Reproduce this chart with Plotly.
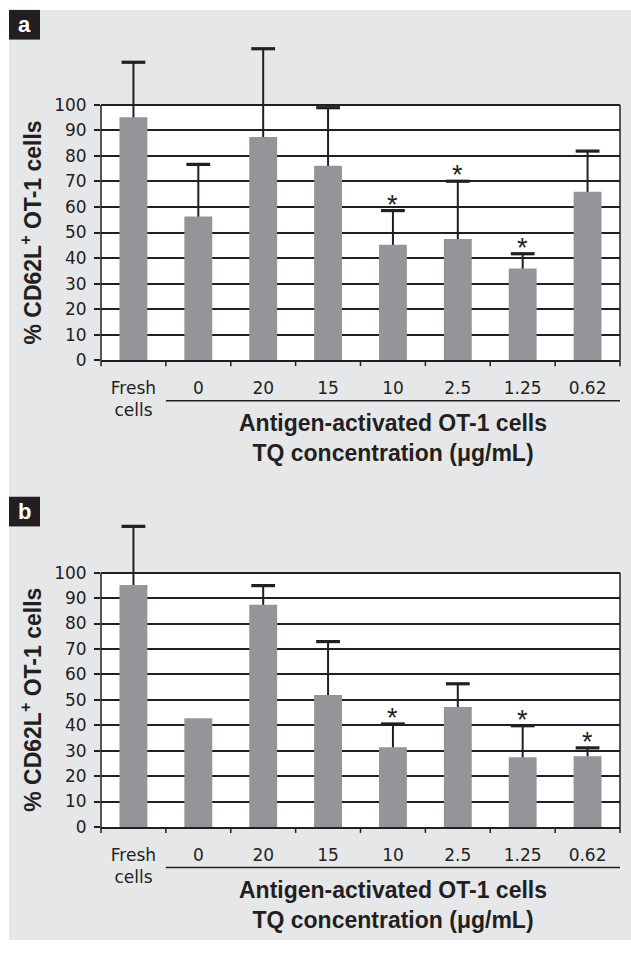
import plotly.graph_objects as go

W, H = 631, 956

# ---------------- data ----------------
categories = ["Fresh<br>cells", "0", "20", "15", "10", "2.5", "1.25", "0.62"]

values_a = [95.2, 56.3, 87.4, 76.2, 45.2, 47.5, 35.9, 66.0]
errors_a = [21.5, 20.4, 34.6, 22.7, 13.4, 22.6, 5.8, 15.9]
stars_a = ["10", "2.5", "1.25"]

values_b = [95.1, 42.7, 87.4, 51.9, 31.3, 47.2, 27.4, 27.8]
errors_b = [23.1, None, 7.5, 21.0, 9.2, 9.1, 12.4, 3.3]
stars_b = ["10", "1.25", "0.62"]

y_ticks = [0, 10, 20, 30, 40, 50, 60, 70, 80, 90, 100]
y_title = "<b>% CD62L<sup>+</sup> OT-1 cells</b>"
x_title = "<b>Antigen-activated OT-1 cells<br>TQ concentration (μg/mL)</b>"
panel_labels = ["a", "b"]

# ---------------- style ----------------
BG = "#e6e7e8"
BAR = "#939598"
INK = "#231f20"
TICK_FONT = dict(family="DejaVu Sans, Arial, sans-serif", size=17, color=INK)
BOLD_FAMILY = "Liberation Sans, Arial, sans-serif"


def X(px):
    return px / W


def Y(py):
    return 1 - py / H


YMAX = 125
# pixel geometry of each panel: (zero line px, px per unit, label box top px)
panels = [
    dict(values=values_a, errors=errors_a, stars=stars_a, zero=364.0, ppu=2.58, label_top=10),
    dict(values=values_b, errors=errors_b, stars=stars_b, zero=835.7, ppu=2.57, label_top=502),
]
X_LEFT, X_RIGHT = 101, 620

fig = go.Figure()
shapes = []
annotations = []

# gray background
shapes.append(dict(type="rect", xref="paper", yref="paper", x0=X(9), x1=X(631), y0=Y(950), y1=Y(10),
                   fillcolor=BG, line=dict(width=0), layer="below"))

idx = list(range(len(categories)))

for i, p in enumerate(panels):
    n = "" if i == 0 else str(i + 1)
    xa = "x" + n
    ya = "y" + n
    top_px = p["zero"] - YMAX * p["ppu"]
    vals = p["values"]
    errs = p["errors"]

    # error bar stems (drawn under the bars)
    err_y_vals = [v if e is not None else None for v, e in zip(vals, errs)]
    fig.add_trace(go.Bar(
        x=idx, y=err_y_vals, width=0.43, xaxis=xa, yaxis=ya,
        marker=dict(color="rgba(0,0,0,0)", line=dict(width=0)),
        error_y=dict(type="data", symmetric=False,
                     array=[e if e is not None else None for e in errs],
                     arrayminus=[v / 2 if e is not None else None for v, e in zip(vals, errs)],
                     color=INK, thickness=2, width=0),
        showlegend=False, hoverinfo="skip"))
    # bars
    fig.add_trace(go.Bar(
        x=idx, y=vals, width=0.43, xaxis=xa, yaxis=ya,
        marker=dict(color=BAR, line=dict(width=0)),
        showlegend=False))
    # error bar caps
    cap_x = [k for k, e in zip(idx, errs) if e is not None]
    cap_y = [vals[k] + errs[k] for k in cap_x]
    fig.add_trace(go.Scatter(
        x=cap_x, y=cap_y, mode="markers", xaxis=xa, yaxis=ya,
        marker=dict(symbol="line-ew", size=17, line=dict(color=INK, width=3.2)),
        showlegend=False, hoverinfo="skip", cliponaxis=False))

    fig.update_layout({
        ("xaxis" + n): dict(
            domain=[X(X_LEFT), X(X_RIGHT)], anchor=ya,
            range=[-0.5, len(categories) - 0.5],
            tickvals=idx, ticktext=categories,
            showline=True, linecolor=INK, linewidth=1.5,
            ticks="", showgrid=False, zeroline=False,
            tickfont=TICK_FONT, ticklabelstandoff=12,
            fixedrange=True),
        ("yaxis" + n): dict(
            domain=[Y(p["zero"]), Y(top_px)], anchor=xa,
            range=[0, YMAX], tickvals=y_ticks,
            showgrid=True, gridcolor=INK, gridwidth=1.5,
            zeroline=False, showline=False,
            ticks="outside", ticklen=6, tickwidth=1.5, tickcolor=INK,
            tickfont=TICK_FONT, ticklabelstandoff=4, fixedrange=True),
    })

    # white plotting field 0..100
    shapes.append(dict(type="rect", xref=xa + " domain", yref=ya, x0=0, x1=1, y0=0, y1=100,
                       fillcolor="white", line=dict(width=0), layer="below"))
    # left axis line and right border (0..100)
    for xd in (0, 1):
        shapes.append(dict(type="line", xref=xa + " domain", yref=ya, x0=xd, x1=xd, y0=0, y1=100,
                           line=dict(color=INK, width=1.5), layer="above"))
    # category boundary ticks
    for b in range(len(categories) + 1):
        shapes.append(dict(type="line", xref=xa + " domain", yref="paper",
                           x0=b / len(categories), x1=b / len(categories),
                           y0=Y(p["zero"]), y1=Y(p["zero"] + 6),
                           line=dict(color=INK, width=1.5), layer="above"))
    # bracket line under treated categories
    shapes.append(dict(type="line", xref=xa + " domain", yref="paper",
                       x0=1 / len(categories), x1=1,
                       y0=Y(p["zero"] + 41), y1=Y(p["zero"] + 41),
                       line=dict(color=INK, width=1.5)))
    # x title
    annotations.append(dict(xref="paper", yref="paper",
                            x=X((X_LEFT + X_RIGHT) / 2 + (X_RIGHT - X_LEFT) / 16),
                            y=Y(p["zero"] + 79), text=x_title, showarrow=False,
                            xanchor="center", yanchor="middle",
                            font=dict(family=BOLD_FAMILY, size=23, color=INK)))
    # y title
    annotations.append(dict(xref="paper", yref="paper", x=X(31),
                            y=Y(p["zero"] - 50 * p["ppu"]), text=y_title, textangle=-90,
                            showarrow=False, xanchor="center", yanchor="middle",
                            font=dict(family=BOLD_FAMILY, size=23, color=INK)))
    # significance stars
    for c in p["stars"]:
        k = categories.index(c)
        annotations.append(dict(xref=xa, yref=ya, x=k, y=vals[k] + errs[k], text="*",
                                showarrow=False, xanchor="center", yanchor="middle", yshift=6,
                                font=dict(family="Liberation Sans, Arial, sans-serif", size=27, color=INK)))
    # panel label
    lt = p["label_top"]
    shapes.append(dict(type="rect", xref="paper", yref="paper", x0=X(9), x1=X(40), y0=Y(lt + 30), y1=Y(lt),
                       fillcolor=INK, line=dict(width=0), layer="above"))
    annotations.append(dict(xref="paper", yref="paper", x=X(24.5), y=Y(lt + 15), text="<b>%s</b>" % panel_labels[i],
                            showarrow=False, xanchor="center", yanchor="middle",
                            font=dict(family=BOLD_FAMILY, size=22, color="white")))

fig.update_layout(
    width=W, height=H, autosize=False,
    margin=dict(l=0, r=0, t=0, b=0, pad=0),
    paper_bgcolor="white", plot_bgcolor="rgba(0,0,0,0)",
    barmode="overlay", showlegend=False,
    shapes=shapes, annotations=annotations,
)

fig.write_html("out.html")
